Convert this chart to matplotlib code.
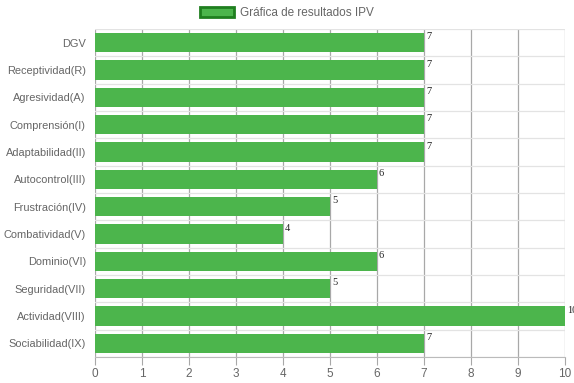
import matplotlib
matplotlib.use('Agg')
import matplotlib.pyplot as plt
import numpy as np
from matplotlib.patches import Patch

categories = ["DGV", "Receptividad(R)", "Agresividad(A)", "Comprensión(I)",
              "Adaptabilidad(II)", "Autocontrol(III)", "Frustración(IV)",
              "Combatividad(V)", "Dominio(VI)", "Seguridad(VII)",
              "Actividad(VIII)", "Sociabilidad(IX)"]
scores = [7, 7, 7, 7, 7, 6, 5, 4, 6, 5, 10, 7]
x_ticks = list(range(0, 11))

bar_color = '#4cb54c'
edge_color = '#1f7f1f'
label_color = '#666666'

fig = plt.figure(figsize=(5.74, 3.83), dpi=100)
ax = fig.add_axes([95 / 574, 1 - 357 / 383, 470 / 574, 328 / 383])

y = np.arange(len(categories))
ax.barh(y, scores, height=0.71, color=bar_color, zorder=3)

ax.set_xlim(0, 10)
ax.set_ylim(len(categories) - 0.5, -0.5)
ax.set_xticks(x_ticks)
ax.set_yticks(y)
ax.set_yticklabels(categories)

# grid: vertical at ticks, horizontal between categories
for xv in x_ticks:
    ax.axvline(xv, color='#a8a8a8', lw=0.9, zorder=1)
for b in np.arange(-0.5, len(categories) + 0.5, 1):
    ax.axhline(b, color='#e3e3e3', lw=0.9, zorder=1)

for s in ax.spines.values():
    s.set_visible(False)
ax.spines['bottom'].set_visible(True)
ax.spines['bottom'].set_color('#bbbbbb')

ax.tick_params(axis='x', length=6, color='#a8a8a8', labelsize=8.5,
               labelcolor=label_color, pad=2)
ax.tick_params(axis='y', length=0, labelsize=7.9, labelcolor=label_color, pad=6.5)
for t in ax.get_xticklabels() + ax.get_yticklabels():
    t.set_fontfamily('Liberation Sans')

for yi, v in zip(y, scores):
    ax.text(v + 0.04, yi - 0.38, str(v), ha='left', va='top', fontsize=7.5,
            family='Liberation Serif', color='#222222', zorder=4, clip_on=False)

handle = Patch(facecolor=bar_color, edgecolor=edge_color, linewidth=2)
fig.legend([handle], ["Gráfica de resultados IPV"], loc='center',
           bbox_to_anchor=(287 / 574, 1 - 13 / 383), frameon=False,
           prop={'family': 'Liberation Sans', 'size': 8.5},
           labelcolor=label_color, handlelength=2.9, handleheight=1.0,
           handletextpad=0.5)

fig.savefig('out.png', dpi=100)
